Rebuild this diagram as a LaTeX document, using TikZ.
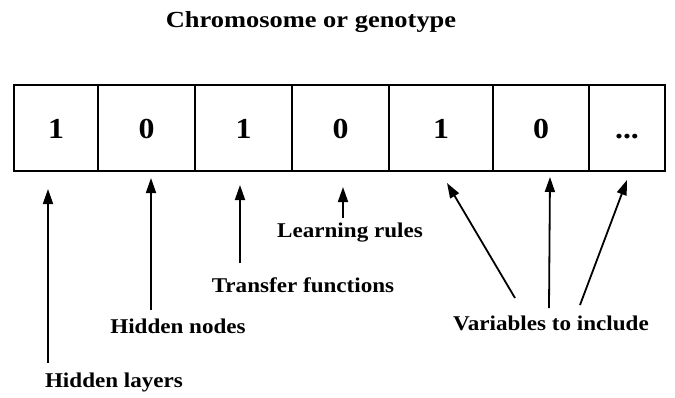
\documentclass[tikz,border=0pt]{standalone}
\usepackage{fontspec}
\setmainfont{Liberation Serif}
\newfontfamily\lblfont[FakeStretch=1.1]{Liberation Serif}
\newfontfamily\ttlfont[FakeStretch=1.15]{Liberation Serif}
\usetikzlibrary{arrows.meta}
\begin{document}
\begin{tikzpicture}[x=1pt,y=-1pt,
  cell/.style={draw,line width=1.6pt,minimum height=86pt,inner sep=0pt,
    text height=20pt,text depth=0pt,
    font=\lblfont\bfseries\fontsize{29}{31}\selectfont},
  lbl/.style={font=\lblfont\bfseries\fontsize{21}{23}\selectfont,inner sep=0pt},
  ttl/.style={font=\ttlfont\bfseries\fontsize{23}{25}\selectfont,inner sep=0pt},
  arr/.style={line width=1.8pt,-{Triangle[length=15pt,width=10pt]}}]
\useasboundingbox[fill=white] (0,0) rectangle (675,397);
\node[ttl] (title) at (311,22) {Chromosome or genotype};
\node[cell,minimum width=84pt] (b1) at (56,128) {1};
\node[cell,minimum width=97pt] (b2) at (146.5,128) {0};
\node[cell,minimum width=97pt] (b3) at (243.5,128) {1};
\node[cell,minimum width=97pt] (b4) at (340.5,128) {0};
\node[cell,minimum width=104pt] (b5) at (441,128) {1};
\node[cell,minimum width=96pt] (b6) at (541,128) {0};
\node[cell,minimum width=76pt] (b7) at (627,128) {...};
\node[lbl] (hl) at (114,382) {Hidden layers};
\node[lbl] (hn) at (178,326) {Hidden nodes};
\node[lbl] (tf) at (303,285) {Transfer functions};
\node[lbl] (lr) at (350,233) {Learning rules};
\node[lbl] (vi) at (551,323) {Variables to include};
\coordinate (hls) at (48,363);  \coordinate (hlt) at (48,189);
\coordinate (hns) at (151,310); \coordinate (hnt) at (151,178);
\coordinate (tfs) at (240,263); \coordinate (tft) at (240,185);
\coordinate (lrs) at (343,218); \coordinate (lrt) at (343,187);
\coordinate (v1s) at (515,298); \coordinate (v1t) at (447,183);
\coordinate (v2s) at (549,308); \coordinate (v2t) at (550,177);
\coordinate (v3s) at (580,305); \coordinate (v3t) at (627,180);
\draw[arr] (hls) -- (hlt);
\draw[arr] (hns) -- (hnt);
\draw[arr] (tfs) -- (tft);
\draw[arr] (lrs) -- (lrt);
\draw[arr] (v1s) -- (v1t);
\draw[arr] (v2s) -- (v2t);
\draw[arr] (v3s) -- (v3t);
\end{tikzpicture}
\end{document}
